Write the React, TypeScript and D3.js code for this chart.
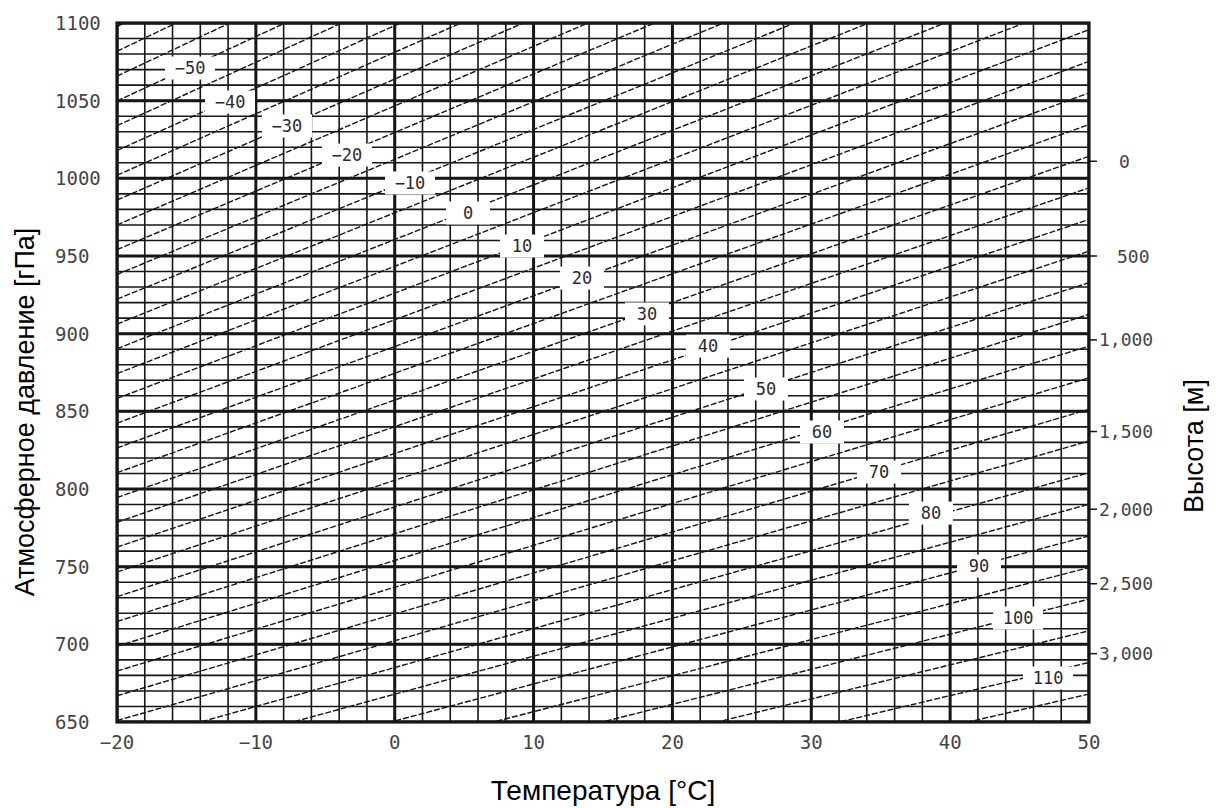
import React from "react";
import * as d3 from "d3";

// ---- data ----
const temperatureTicks = [-20, -10, 0, 10, 20, 30, 40, 50];
const pressureTicks = [650, 700, 750, 800, 850, 900, 950, 1000, 1050, 1100];
const altitudeTicks = [0, 500, 1000, 1500, 2000, 2500, 3000];
const altitudeTickPressure = [1011, 950, 896, 837, 787, 739, 694];

// correction lines (ppm) and their pressure at T = -20 °C and T = 50 °C
const lineValues = [-65, -60, -55, -50, -45, -40, -35, -30, -25, -20, -15, -10, -5, 0, 5, 10, 15, 20, 25, 30, 35, 40, 45, 50, 55, 60, 65, 70, 75, 80, 85, 90, 95, 100, 105, 110, 115];
const linePressureAtMinus20 = [1097.7, 1081.8, 1065.8, 1049.8, 1033.9, 1017.9, 1002.0, 986.0, 970.0, 954.1, 938.1, 922.2, 906.2, 890.3, 874.3, 858.3, 842.4, 826.4, 810.5, 794.5, 778.6, 762.6, 746.6, 730.7, 714.7, 698.8, 682.8, 666.9, 650.9, 634.9, 619.0, 603.0, 587.1, 571.1, 555.2, 539.2, 523.2];
const linePressureAt50 = [1401.3, 1380.9, 1360.5, 1340.1, 1319.8, 1299.4, 1279.0, 1258.7, 1238.3, 1217.9, 1197.6, 1177.2, 1156.8, 1136.4, 1116.1, 1095.7, 1075.3, 1055.0, 1034.6, 1014.2, 993.9, 973.5, 953.1, 932.8, 912.4, 892.0, 871.6, 851.3, 830.9, 810.5, 790.2, 769.8, 749.4, 729.1, 708.7, 688.3, 668.0];

// labels placed on the lines
const labelValues = [-50, -40, -30, -20, -10, 0, 10, 20, 30, 40, 50, 60, 70, 80, 90, 100, 110];
const labelTemps = [-14.74, -11.86, -7.76, -3.44, 1.1, 5.28, 9.17, 13.49, 18.17, 22.56, 26.74, 30.77, 34.88, 38.62, 42.08, 44.89, 47.05];
const labelPressures = [1071.0, 1049.1, 1033.7, 1015.0, 997.0, 977.7, 956.4, 935.8, 912.7, 892.0, 864.4, 836.7, 810.9, 784.5, 750.4, 716.9, 678.3];

const fmtNum = (v: number) => (v < 0 ? "\u2212" + Math.abs(v) : String(v));

export default function App() {
  const W = 1216, H = 808;
  const left = 117, right = 1089, top = 23, bottom = 722;
  const x = d3.scaleLinear().domain([-20, 50]).range([left, right]);
  const y = d3.scaleLinear().domain([650, 1100]).range([bottom, top]);

  const minorT = d3.range(-20, 50.001, 2);
  const minorP = d3.range(650, 1100.001, 10);
  const line = d3.line<[number, number]>().x((d) => x(d[0])).y((d) => y(d[1]));

  const monoFont = "'DejaVu Sans Mono', monospace";
  const sansFont = "'Liberation Sans', Arial, sans-serif";
  const ink = "#161616";

  return (
    <svg width={W} height={H} style={{ position: "absolute", left: 0, top: 0, background: "#fff" }}>
      <defs>
        <clipPath id="plot">
          <rect x={left} y={top} width={right - left} height={bottom - top} />
        </clipPath>
      </defs>
      <rect x={0} y={0} width={W} height={H} fill="#fff" />
      <g clipPath="url(#plot)">
        {minorT.map((t) => (
          <line key={"vt" + t} x1={x(t)} x2={x(t)} y1={top} y2={bottom} stroke={ink} strokeWidth={1.6} />
        ))}
        {minorP.map((p) => (
          <line key={"hp" + p} x1={left} x2={right} y1={y(p)} y2={y(p)} stroke={ink} strokeWidth={1.6} />
        ))}
        {lineValues.map((v, i) => (
          <path
            key={"l" + v}
            d={line([[-20, linePressureAtMinus20[i]], [50, linePressureAt50[i]]]) || ""}
            fill="none"
            stroke={ink}
            strokeWidth={1.4}
            strokeDasharray="6 2"
          />
        ))}
        {temperatureTicks.map((t) => (
          <line key={"VT" + t} x1={x(t)} x2={x(t)} y1={top} y2={bottom} stroke={ink} strokeWidth={3} />
        ))}
        {pressureTicks.map((p) => (
          <line key={"HP" + p} x1={left} x2={right} y1={y(p)} y2={y(p)} stroke={ink} strokeWidth={3} />
        ))}
      </g>
      <rect x={left} y={top} width={right - left} height={bottom - top} fill="none" stroke={ink} strokeWidth={3.2} />

      {labelValues.map((v, i) => {
        const s = fmtNum(v);
        const w = s.length <= 2 ? 44 : 50;
        const cx = x(labelTemps[i]);
        const cy = y(labelPressures[i]);
        return (
          <g key={"lab" + v}>
            <rect x={cx - w / 2} y={cy - 11.5} width={w} height={23} fill="#fff" />
            <text x={cx} y={cy} textAnchor="middle" dominantBaseline="central" fontFamily={monoFont} fontSize={17} fill="#2a2a2a">
              {s}
            </text>
          </g>
        );
      })}

      {/* left axis labels */}
      {pressureTicks.map((p) => (
        <text key={"pl" + p} x={55} y={y(p)} dominantBaseline="central" fontFamily={monoFont} fontSize={19} fill="#444">
          {p}
        </text>
      ))}
      {/* bottom axis labels */}
      {temperatureTicks.map((t) => (
        <text key={"tl" + t} x={x(t)} y={742} textAnchor="middle" dominantBaseline="central" fontFamily={monoFont} fontSize={19} fill="#444">
          {fmtNum(t)}
        </text>
      ))}
      {/* right axis ticks + labels */}
      {altitudeTicks.map((a, i) => {
        const py = y(altitudeTickPressure[i]);
        const lx = a >= 1000 ? 1099 : a === 0 ? 1119 : 1117;
        return (
          <g key={"al" + a}>
            <line x1={right} x2={right + 8} y1={py} y2={py} stroke={ink} strokeWidth={1.5} />
            <text x={lx} y={py} dominantBaseline="central" fontFamily={monoFont} fontSize={18} fill="#444">
              {d3.format(",")(a)}
            </text>
          </g>
        );
      })}

      {/* titles */}
      <text transform={`translate(34,${412}) rotate(-90)`} textAnchor="middle" fontFamily={sansFont} fontSize={27} fill="#000">
        Атмосферное давление [гПа]
      </text>
      <text transform={`translate(1203,${446}) rotate(-90)`} textAnchor="middle" fontFamily={sansFont} fontSize={27} fill="#000">
        Высота [м]
      </text>
      <text x={603} y={800} textAnchor="middle" fontFamily={sansFont} fontSize={28} fill="#000">
        Температура [°C]
      </text>
    </svg>
  );
}
